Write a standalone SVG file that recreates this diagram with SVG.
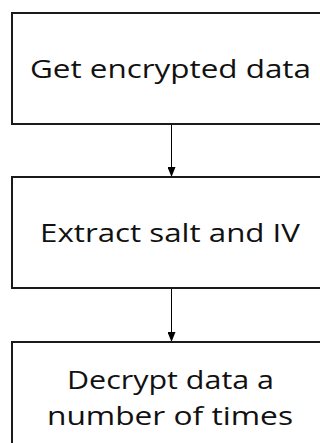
<svg xmlns="http://www.w3.org/2000/svg" width="320" height="443" viewBox="0 0 320 443">
<style>
.box{fill:#fff;stroke:#1a1a1a;stroke-width:2}
.lbl{font-family:"Open Sans","Noto Sans",sans-serif;font-size:25px;fill:#111;text-anchor:middle}
.conn{stroke:#000;stroke-width:1;fill:none}
</style>
<defs>
<marker id="ah" viewBox="0 0 10 8" refX="10" refY="4" markerWidth="10" markerHeight="8" markerUnits="userSpaceOnUse" orient="auto">
<path d="M0,0 L10,4 L0,8 Z" fill="#000"/>
</marker>
</defs>
<rect width="320" height="443" fill="#fff"/>
<g id="connectors">
<line class="conn" x1="171.5" y1="124" x2="171.5" y2="177" marker-end="url(#ah)"/>
<line class="conn" x1="171.5" y1="288" x2="171.5" y2="342" marker-end="url(#ah)"/>
</g>
<g id="n1">
<rect class="box" x="12" y="13" width="320" height="111"/>
<text class="lbl" x="170.5" y="77.5" textLength="281" lengthAdjust="spacingAndGlyphs">Get encrypted data</text>
</g>
<g id="n2">
<rect class="box" x="12" y="177" width="320" height="111"/>
<text class="lbl" x="170" y="242" textLength="260" lengthAdjust="spacingAndGlyphs">Extract salt and IV</text>
</g>
<g id="n3">
<rect class="box" x="12" y="342" width="320" height="111"/>
<text class="lbl" x="170.5" y="389" textLength="207" lengthAdjust="spacingAndGlyphs">Decrypt data a</text>
<text class="lbl" x="170" y="425" textLength="246" lengthAdjust="spacingAndGlyphs">number of times</text>
</g>
</svg>
